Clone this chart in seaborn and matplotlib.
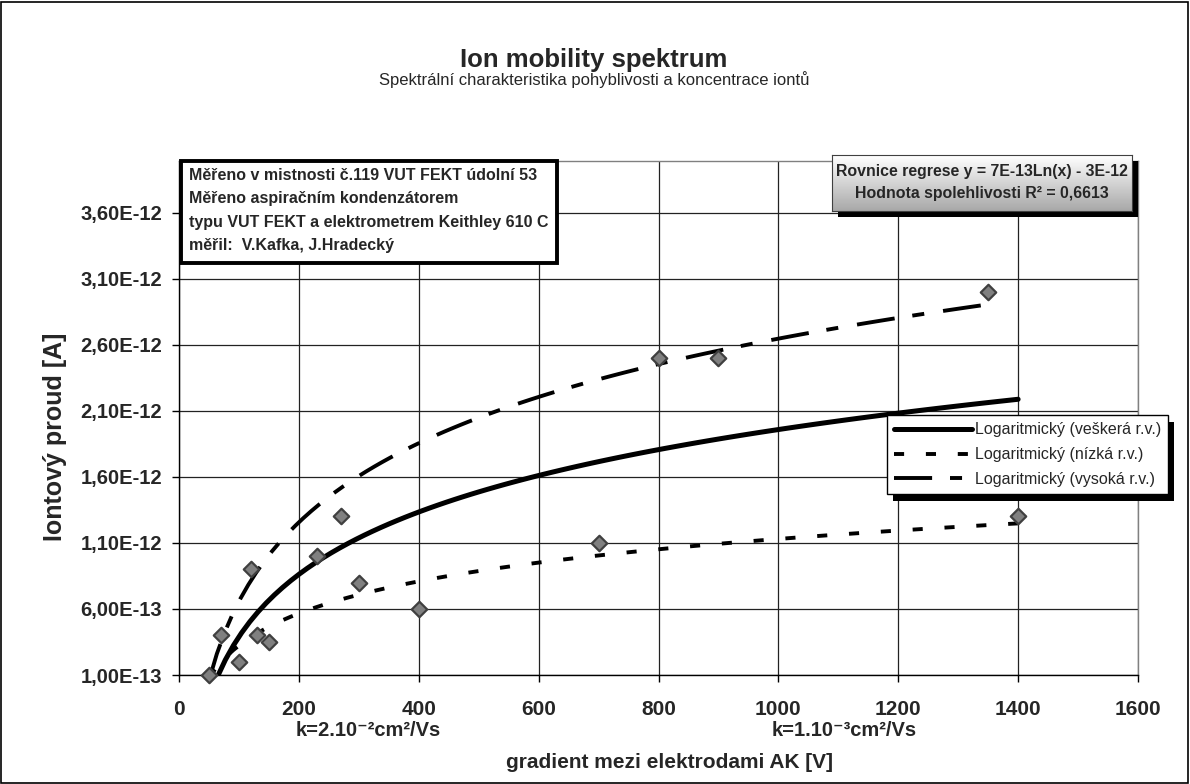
import numpy as np
import matplotlib
matplotlib.use("Agg")
import matplotlib.pyplot as plt
import seaborn as sns
from matplotlib.patches import Rectangle
from matplotlib.ticker import FuncFormatter

# namerene hodnoty - gradient [V] a iontovy proud [A]
napeti_vse = [50, 70, 100, 120, 130, 150, 230, 270, 300, 400, 700, 800, 900, 1350, 1400]
proud_vse = [1.0e-13, 4.0e-13, 2.0e-13, 9.0e-13, 4.0e-13, 3.5e-13, 1.0e-12, 1.3e-12,
             8.0e-13, 6.0e-13, 1.1e-12, 2.5e-12, 2.5e-12, 3.0e-12, 1.3e-12]

# nizka pohyblivost
napeti_nizka = [50, 70, 100, 130, 150, 300, 400, 700, 1400]
proud_nizka = [1.0e-13, 4.0e-13, 2.0e-13, 4.0e-13, 3.5e-13, 8.0e-13, 6.0e-13, 1.1e-12, 1.3e-12]

# vysoka pohyblivost
napeti_vysoka = [50, 120, 270, 800, 900, 1350]
proud_vysoka = [1.0e-13, 9.0e-13, 1.3e-12, 2.5e-12, 2.5e-12, 3.0e-12]

x_ticks = [0, 200, 400, 600, 800, 1000, 1200, 1400, 1600]
y_ticks = [1.0e-13, 6.0e-13, 1.1e-12, 1.6e-12, 2.1e-12, 2.6e-12, 3.1e-12, 3.6e-12]
legend_labels = ["Logaritmický (veškerá r.v.)", "Logaritmický (nízká r.v.)",
                 "Logaritmický (vysoká r.v.)"]
info_lines = ["Měřeno v mistnosti č.119 VUT FEKT údolní 53",
              "Měřeno aspiračním kondenzátorem",
              "typu VUT FEKT a elektrometrem Keithley 610 C",
              "měřil:  V.Kafka, J.Hradecký"]

sns.set_style("white")
plt.rcParams["font.family"] = ["Liberation Sans", "DejaVu Sans"]

W, H = 1190, 784
fig = plt.figure(figsize=(W / 100, H / 100), dpi=100)

def fx(px):
    return px / W

def fy(py):
    return 1 - py / H

ax = fig.add_axes([fx(179), fy(675), fx(1138) - fx(179), fy(161) - fy(675)])

# trend lines (logarithmic fit) via seaborn
sns.regplot(x=napeti_vse, y=proud_vse, logx=True, ci=None, scatter=False, ax=ax,
            line_kws=dict(color="black", lw=3.6, zorder=3))
sns.regplot(x=napeti_nizka, y=proud_nizka, logx=True, ci=None, scatter=False, ax=ax,
            line_kws=dict(color="black", lw=2.8, dashes=(2.6, 5.6), zorder=3))
sns.regplot(x=napeti_vysoka, y=proud_vysoka, logx=True, ci=None, scatter=False, ax=ax,
            line_kws=dict(color="black", lw=2.8, dashes=(9.8, 4.6, 3.1, 4.9), zorder=3))
trend_lines = list(ax.lines[:3])

sns.scatterplot(x=napeti_vse, y=proud_vse, marker="D", s=62, color="#808080",
                edgecolor="#404040", linewidth=1.6, ax=ax, zorder=4, clip_on=False)

ax.set_xlim(0, 1600)
ax.set_ylim(1.0e-13, 3.99e-12)
ax.set_xticks(x_ticks)
ax.set_yticks(y_ticks)
ax.yaxis.set_major_formatter(FuncFormatter(lambda v, p: f"{v:.2E}".replace(".", ",")))
ax.grid(True, color="#222222", lw=0.9)
ax.set_axisbelow(True)
for s in ["top", "right"]:
    ax.spines[s].set_color("#808080")
for s in ["left", "bottom"]:
    ax.spines[s].set_color("black")
for s in ax.spines.values():
    s.set_linewidth(1.0)
ax.tick_params(axis="both", direction="out", length=5, width=1, color="black",
               left=True, bottom=True)
ax.tick_params(axis="x", pad=13, labelsize=15)
ax.tick_params(axis="y", pad=7, labelsize=14.5)
for lab in ax.get_xticklabels() + ax.get_yticklabels():
    lab.set_fontweight("bold")

# titles and axis labels
fig.text(fx(594), fy(60), "Ion mobility spektrum", ha="center", va="center",
         fontsize=18.5, fontweight="bold")
fig.text(fx(594), fy(80), "Spektrální charakteristika pohyblivosti a koncentrace iontů",
         ha="center", va="center", fontsize=12)
fig.text(fx(670), fy(762), "gradient mezi elektrodami AK [V]", ha="center", va="center",
         fontsize=15, fontweight="bold")
fig.text(fx(55), fy(437), "Iontový proud [A]", ha="center", va="center", rotation=90,
         fontsize=18, fontweight="bold")
fig.text(fx(368), fy(731), "k=2.10⁻²cm²/Vs", ha="center", va="center",
         fontsize=14.5, fontweight="bold")
fig.text(fx(844), fy(731), "k=1.10⁻³cm²/Vs", ha="center", va="center",
         fontsize=14.5, fontweight="bold")

# info box
for i, t in enumerate(info_lines):
    fig.text(fx(189), fy(175 + 23.6 * i), t, ha="left", va="center", fontsize=11.5,
             fontweight="bold", zorder=6)
fig.canvas.draw()
rend = fig.canvas.get_renderer()
right = max(t.get_window_extent(rend).x1 for t in fig.texts[-4:]) + 8
fig.add_artist(Rectangle((fx(181), fy(263)), right / W - fx(181), fy(161) - fy(263),
                         transform=fig.transFigure, fc="white", ec="black", lw=2.8, zorder=5))

# regression equation box with gradient
fig.add_artist(Rectangle((fx(838), fy(217)), fx(1138) - fx(838), fy(161) - fy(217),
                         transform=fig.transFigure, fc="black", ec="none", zorder=5))
gax = fig.add_axes([fx(832), fy(211), fx(1132) - fx(832), fy(155) - fy(211)], zorder=6)
grad = np.linspace(1.0, 0.66, 50).reshape(-1, 1)
gax.imshow(grad, aspect="auto", cmap="gray", vmin=0, vmax=1, extent=[0, 1, 0, 1], origin="upper")
gax.set_xticks([])
gax.set_yticks([])
for s in gax.spines.values():
    s.set_color("#404040")
    s.set_linewidth(0.8)
gax.text(0.5, 0.71, "Rovnice regrese y = 7E-13Ln(x) - 3E-12", transform=gax.transAxes,
         ha="center", va="center", fontsize=11.4, fontweight="bold")
gax.text(0.5, 0.32, "Hodnota spolehlivosti R² = 0,6613", transform=gax.transAxes,
         ha="center", va="center", fontsize=11.4, fontweight="bold")

# legend
leg = ax.legend(trend_lines, legend_labels, loc="upper left",
                bbox_to_anchor=(fx(887), fy(415), fx(1168) - fx(887), 0.0),
                bbox_transform=fig.transFigure, mode="expand", fontsize=11.5, frameon=True,
                fancybox=False, edgecolor="black", framealpha=1, handlelength=4.9,
                handletextpad=0.15, borderpad=0.45, labelspacing=0.62, borderaxespad=0)
leg.get_frame().set_linewidth(1.0)
leg.set_zorder(10)
fig.canvas.draw()
bb = leg.get_window_extent(fig.canvas.get_renderer())
ax.add_patch(Rectangle((bb.x0 + 6, bb.y0 - 7), bb.width, bb.height, transform=None,
                       fc="black", ec="none", clip_on=False, zorder=9))

# outer frame
fig.add_artist(Rectangle((0.001, 0.001), 0.997, 0.997, transform=fig.transFigure,
                         fill=False, ec="black", lw=1.2))

fig.savefig("out.png", dpi=100)
